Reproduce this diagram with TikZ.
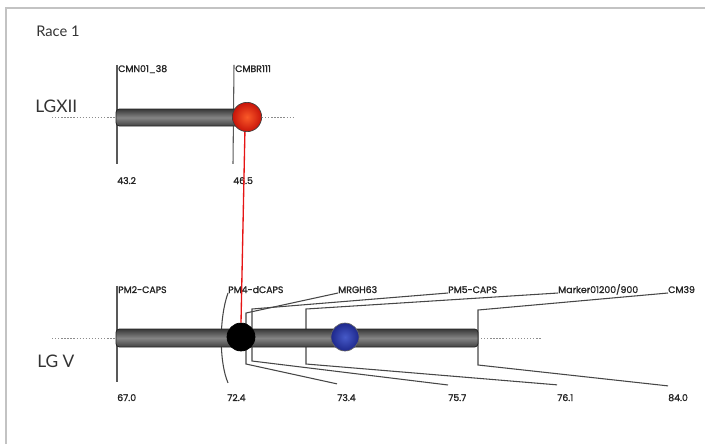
\documentclass[tikz,border=0pt]{standalone}
\usepackage{fontspec}
\setmainfont{Lato}
\newfontfamily\markfont[FakeBold=1.5]{Poppins}
\usetikzlibrary{calc}

\definecolor{framegray}{RGB}{195,195,195}
\definecolor{redhi}{RGB}{250,90,40}
\definecolor{redlo}{RGB}{200,20,10}
\definecolor{bluehi}{RGB}{70,90,200}
\definecolor{bluelo}{RGB}{30,40,140}
\definecolor{linkred}{RGB}{230,20,20}

\begin{document}
\begin{tikzpicture}[x=0.75pt,y=-0.75pt,
  mark label/.style={font=\markfont\fontsize{7}{8}\selectfont, inner sep=0pt,
                     anchor=base west, text=black!85},
  group label/.style={font=\fontsize{13}{15}\selectfont, inner sep=0pt,
                      anchor=west, text=black!80},
  tickline/.style={draw=black!65, line width=0.8pt},
  fanline/.style={draw=black!72, line width=0.8pt},
  axisdots/.style={draw=black!45, line width=0.6pt, dash pattern=on 1pt off 1.3pt},
  chrombar/.style={draw=black!85, line width=0.6pt, rounded corners=2.5pt,
                   top color=black!78, bottom color=black!74, middle color=black!48},
  locus/.style={circle, inner sep=0pt, minimum size=21pt, draw=black!75, line width=0.5pt}
]
\useasboundingbox (0,0) rectangle (705,444);

% frame
\draw[framegray, line width=1.2pt] (6,444) -- (6,8) -- (705,8);

\node[font=\fontsize{11}{13}\selectfont, inner sep=0pt, anchor=west, text=black!80] (title) at (36,31) {Race 1};

% ---------------- LG XII ----------------
\node[group label] (lgxii) at (35,106) {LGXII};

\node[mark label] (cmn)  at (118,72) {CMN01\_38};
\node[mark label] (cmbr) at (235,72) {CMBR111};
\node[mark label] (n432) at (117,184) {43.2};
\node[mark label] (n465) at (233,184) {46.5};

\draw[axisdots] (52,117) -- (115,117);
\draw[axisdots] (262,117) -- (295,117);

\draw[tickline] ($(cmn.north west)+(-1,0)$) -- ($(n432.north west)+(0,-13)$);
\draw[tickline] ($(cmbr.north west)+(-1,0)$) -- ($(n465.north west)+(0,-13)$);

\draw[chrombar] (116,109) rectangle (240,126);

% ---------------- LG V ----------------
\node[group label] (lgv) at (37,361) {LG V};

\node[mark label] (pm2) at (118,293) {PM2-CAPS};
\node[mark label] (pm4) at (228,293) {PM4-dCAPS};
\node[mark label] (mrg) at (338,293) {MRGH63};
\node[mark label] (pm5) at (448,293) {PM5-CAPS};
\node[mark label] (mk)  at (558,293) {Marker01200/900};
\node[mark label] (cm)  at (668,293) {CM39};

\node[mark label] (n670) at (117,401) {67.0};
\node[mark label] (n724) at (227,401) {72.4};
\node[mark label] (n734) at (337,401) {73.4};
\node[mark label] (n757) at (448,401) {75.7};
\node[mark label] (n761) at (557,401) {76.1};
\node[mark label] (n840) at (668,401) {84.0};

\draw[axisdots] (52,338) -- (115,338);
\draw[axisdots] (481,338) -- (542,338);

% label-to-locus connectors
\draw[tickline] ($(pm2.north west)+(-1,0)$) -- ($(n670.north west)+(0,-12)$);
\draw[fanline] (pm4.base west) .. controls (219,318) and (219,362) .. ($(n724.north west)+(1,-11)$);
\draw[fanline] (mrg.base west) -- (246,313) -- (246,364) -- ($(n734.north west)+(0,-10)$);
\draw[fanline] (pm5.base west) -- (252,309) -- (252,361) -- ($(n757.north west)+(0,-9)$);
\draw[fanline] (mk.base west)  -- (306,309) -- (306,364) -- ($(n761.north west)+(0,-9)$);
\draw[fanline] (cm.base west)  -- (478,310) -- (478,365) -- ($(n840.north west)+(0,-8)$);

\draw[chrombar] (116,329) rectangle (478,347);

% loci markers
\node[locus, inner color=redhi, outer color=redlo, minimum size=22pt] (rball) at (247,117) {};
\node[locus, fill=black, draw=black, minimum size=21pt] (kball) at (241,337) {};
\node[locus, inner color=bluehi, outer color=bluelo, draw=black!60] (bball) at (345,337) {};

% link between the two groups
\draw[linkred, line width=1pt] (rball.-98) -- (kball.north);
\end{tikzpicture}
\end{document}
